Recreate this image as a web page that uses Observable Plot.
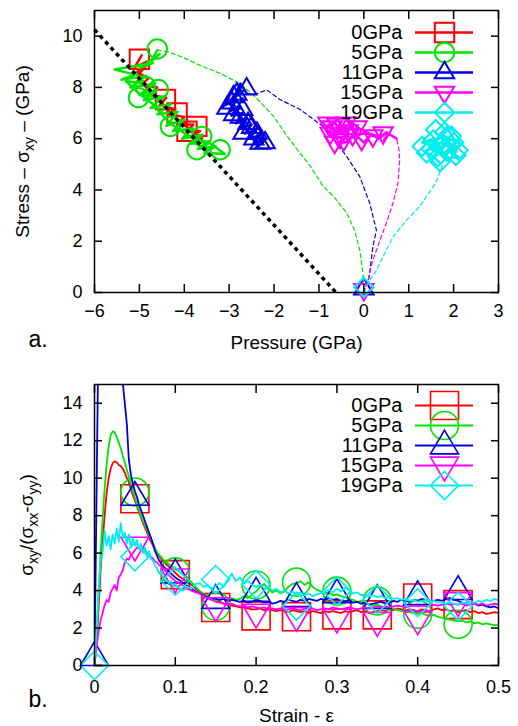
<!DOCTYPE html>
<html><head><meta charset="utf-8">
<script src="https://cdn.jsdelivr.net/npm/d3@7"></script>
<script src="https://cdn.jsdelivr.net/npm/@observablehq/plot@0.6"></script>
<style>
body{margin:0;background:#fff;}
#wrap{position:relative;width:518px;height:726px;background:#fff;}
#wrap svg{display:block;}
.leg{position:absolute;left:280px;}
</style></head><body><div id="wrap"></div>
<script>
// ---------- shared ----------
const series = ["0GPa","5GPa","11GPa","15GPa","19GPa"];
const colors = ["#ff0000","#00e600","#0000e0","#ff00ff","#00eeee"];
const symNames = ["square","circle","triUp","triDown","diamond"];

// ---------- panel a: pressure vs stress ----------
const xTicksA = [-6,-5,-4,-3,-2,-1,0,1,2,3];
const yTicksA = [0,2,4,6,8,10];
const bound = [[-6,10.25],[-0.62,0]];

const trans5 = [[0,0],[-0.02,0.75],[-0.09,1.65],[-0.2,2.4],[-0.38,3.1],[-0.65,3.7],[-0.91,4.15],[-1.2,4.95],[-1.45,5.5],[-1.75,6.2],[-2.0,6.85],[-2.4,7.6],[-2.76,8.15],[-3.2,8.55],[-3.64,8.85],[-4.0,9.15],[-4.38,9.4],[-4.6,9.45]];
const trans11 = [[0,0],[0.12,0.6],[0.2,1.78],[0.28,2.43],[0.13,3.49],[-0.09,4.52],[-0.38,5.3],[-0.65,5.95],[-0.91,6.48],[-1.42,7.14],[-1.87,7.53],[-2.16,7.9],[-2.4,7.75],[-2.6,7.75]];
const trans15 = [[0,0],[0.09,0.47],[0.2,1.25],[0.36,2.04],[0.5,2.7],[0.65,3.49],[0.76,4.27],[0.8,5.18],[0.78,5.6],[0.73,6.0]];
const trans19 = [[0,0],[0.13,0.47],[0.28,0.86],[0.5,1.65],[0.65,2.17],[0.95,2.82],[1.24,3.35],[1.6,4.27],[1.76,5.0],[1.7,5.05]];

const steady0 = [[-4.95,9.25],[-5.1,8.8],[-4.75,9.05],[-5.0,8.55],[-4.8,8.35],[-4.95,8.1],[-4.6,8.0],[-4.75,7.7],[-4.4,7.6],[-4.55,7.3],[-4.2,7.15],[-4.35,6.95],[-4.0,6.85],[-4.15,6.55],[-3.8,6.55],[-3.95,6.25],[-3.65,6.3],[-3.85,6.05],[-3.6,6.0],[-3.9,6.4],[-4.2,6.8],[-4.5,7.4],[-4.85,8.0],[-5.05,8.6],[-4.85,9.0]];
const steady5 = [[-4.6,9.45],[-4.75,9.0],[-4.55,9.3],[-5.0,8.75],[-4.7,8.95],[-5.55,8.7],[-5.1,8.5],[-5.4,8.3],[-4.85,8.45],[-5.2,8.0],[-4.65,8.15],[-5.0,7.7],[-4.6,7.9],[-4.9,7.5],[-4.45,7.65],[-4.75,7.2],[-4.3,7.35],[-4.6,6.95],[-4.15,7.05],[-4.4,6.5],[-4.0,6.75],[-4.25,6.3],[-3.8,6.4],[-4.05,6.0],[-3.6,6.15],[-3.85,5.8],[-3.45,5.9],[-3.7,5.6],[-3.3,5.7],[-3.55,5.45],[-3.1,5.4],[-3.4,5.8],[-3.9,6.1],[-4.35,6.65],[-4.7,7.35],[-5.0,7.75],[-5.3,8.25],[-4.9,8.15],[-5.1,8.6]];
const steady11 = [[-2.6,7.75],[-2.75,8.15],[-2.9,7.6],[-2.7,7.85],[-3.1,7.3],[-2.85,7.5],[-3.0,7.05],[-2.8,7.25],[-2.95,6.9],[-2.7,7.0],[-2.85,6.6],[-2.6,6.8],[-2.75,6.4],[-2.5,6.55],[-2.65,6.2],[-2.4,6.35],[-2.55,6.0],[-2.3,6.15],[-2.45,5.85],[-2.2,5.95],[-2.35,5.7],[-2.6,6.3],[-2.8,6.9],[-3.0,7.4],[-2.8,7.9]];
const steady15 = [[0.73,6.0],[0.5,6.25],[0.35,6.0],[0.15,6.15],[0.0,5.85],[-0.15,6.1],[-0.3,6.45],[-0.5,6.2],[-0.65,6.65],[-0.82,6.5],[-0.6,6.3],[-0.78,6.1],[-0.45,6.0],[-0.6,5.8],[-0.3,5.9],[-0.45,6.5],[-0.2,6.3],[-0.35,6.75],[-0.1,6.4],[-0.25,6.05],[0.05,6.25],[0.3,6.1],[0.55,6.2],[0.45,5.95]];
const steady19 = [[1.7,5.05],[1.55,5.3],[1.35,5.5],[1.6,5.7],[1.3,5.85],[1.55,6.0],[1.75,5.6],[1.9,5.9],[1.7,6.2],[1.85,6.45],[2.0,6.0],[2.15,5.75],[1.95,5.5],[2.1,5.3],[1.85,5.2],[1.65,5.45],[1.45,5.65],[1.7,5.85],[1.95,5.65],[1.8,5.35],[1.6,5.55],[1.5,5.9],[1.8,6.1],[2.05,5.85]];

const pts0 = [[-5.0,9.1],[-4.42,7.53],[-4.16,7.0],[-3.72,6.48],[-3.94,6.29]];
const pts5 = [[-4.6,9.5],[-4.58,7.92],[-5.02,7.6],[-4.87,8.05],[-4.31,6.48],[-3.61,6.09],[-3.72,5.57],[-3.2,5.57]];
const pts11 = [[0,0.15],[-2.61,7.95],[-2.83,7.75],[-2.94,7.4],[-2.58,6.6],[-2.69,6.22],[-2.38,6.22],[-2.31,5.83],[-3.05,7.2],[-2.9,6.95],[-2.75,6.85],[-2.5,6.45],[-2.45,6.0],[-2.2,5.85],[-2.9,7.65],[-2.7,7.15]];
const pts15 = [[0,0.1],[0.43,6.22],[-0.05,5.96],[-0.35,6.3],[-0.6,6.55],[-0.75,6.2],[-0.45,5.95],[-0.7,6.45],[-0.55,6.05],[-0.25,6.15],[-0.15,6.45],[-0.8,6.6],[-0.4,6.6],[-0.65,5.85],[0.2,6.1]];
const pts19 = [[0,0.2],[1.6,6.35],[1.5,5.6],[1.75,5.75],[2.0,5.85],[1.65,5.3],[1.85,5.5],[1.4,5.45],[1.95,6.1],[1.3,5.7],[1.55,5.95],[1.8,6.25],[2.1,5.55],[1.7,5.1],[2.05,5.35]];

// ---------- panel b: strain vs ratio ----------
const xTicksB = [0,0.1,0.2,0.3,0.4,0.5];
const yTicksB = [0,2,4,6,8,10,12,14];
const strain = [0,0.0025,0.005,0.0075,0.01,0.0125,0.015,0.0175,0.02,0.0225,
0.025,0.0275,0.03,0.0325,0.035,0.0375,0.04,0.0425,0.045,0.0475,
0.05,0.0525,0.055,0.0575,0.06,0.0625,0.065,0.0675,0.07,0.0725,
0.075,0.0775,0.08,0.0825,0.085,0.0875,0.09,0.0925,0.095,0.0975,
0.1,
0.105,0.11,0.115,0.12,0.125,0.13,0.135,0.14,0.145,0.15,
0.155,0.16,0.165,0.17,0.175,0.18,0.185,0.19,0.195,0.2,
0.205,0.21,0.215,0.22,0.225,0.23,0.235,0.24,0.245,0.25,
0.255,0.26,0.265,0.27,0.275,0.28,0.285,0.29,0.295,0.3,
0.305,0.31,0.315,0.32,0.325,0.33,0.335,0.34,0.345,0.35,
0.355,0.36,0.365,0.37,0.375,0.38,0.385,0.39,0.395,0.4,
0.405,0.41,0.415,0.42,0.425,0.43,0.435,0.44,0.445,0.45,
0.455,0.46,0.465,0.47,0.475,0.48,0.485,0.49,0.495,0.5];

const ratio0 = [0,1.2,3.0,5.0,6.6,8.0,9.2,10.0,10.5,10.8,
10.9,10.85,10.7,10.65,10.5,10.3,10.0,9.8,9.4,9.1,
8.8,8.5,8.2,7.9,7.6,7.35,7.1,6.85,6.6,6.4,
6.15,6.0,5.85,5.7,5.55,5.45,5.35,5.25,5.15,5.05,
4.95,
4.75,4.6,4.45,4.3,4.1,3.95,3.8,3.65,3.55,3.45,
3.4,3.3,3.25,3.2,3.15,3.1,3.1,3.05,3.0,3.0,
3.05,2.95,3.0,2.95,2.9,2.95,2.9,2.85,2.95,2.9,
2.85,2.9,2.8,2.9,2.85,2.8,2.9,2.85,2.9,2.85,
2.8,2.9,2.85,2.9,2.95,2.85,2.9,2.8,2.85,2.9,
2.95,2.9,3.0,2.95,3.05,3.0,2.95,3.0,2.95,2.9,
3.0,2.95,2.9,3.0,3.05,2.95,3.0,2.9,2.95,2.85,
2.9,2.95,2.85,2.9,2.8,2.85,2.75,2.8,2.85,2.8];
const ratio5 = [0,1.5,3.8,6.0,7.8,9.4,10.7,11.7,12.3,12.5,
12.45,12.2,11.9,11.6,11.2,10.85,10.45,10.1,9.7,9.3,
8.95,8.6,8.3,8.0,7.7,7.45,7.25,7.0,6.75,6.5,
6.25,6.05,5.9,5.8,5.65,5.55,5.5,5.4,5.3,5.25,
5.15,
5.0,4.85,4.65,4.45,4.2,4.0,3.8,3.6,3.5,3.45,
3.5,3.55,3.45,3.6,3.5,3.55,3.7,3.6,3.8,3.95,
4.2,4.35,4.1,3.9,4.0,3.85,3.95,4.2,4.35,4.4,
4.5,4.3,4.45,4.2,4.05,3.95,3.85,3.9,3.75,3.8,
3.7,3.65,3.55,3.5,3.4,3.45,3.3,3.25,3.2,3.25,
3.15,3.1,3.0,3.05,2.95,2.9,2.95,2.85,2.8,2.75,
2.8,2.7,2.65,2.7,2.6,2.55,2.5,2.45,2.4,2.35,
2.4,2.3,2.35,2.25,2.3,2.2,2.25,2.2,2.15,2.15];
const ratio11 = [0,9,18,21,22,22,21.5,21,20,19.2,
18.4,17.6,16.8,16.0,15.1,14.0,12.9,11.0,10.2,9.7,
9.3,9.0,8.6,8.3,8.0,7.7,7.4,7.1,6.8,6.5,
6.1,5.85,5.6,5.45,5.3,5.2,5.1,5.0,4.9,4.8,
4.7,
4.55,4.4,4.25,4.1,3.95,3.85,3.75,3.65,3.6,3.55,
3.5,3.55,3.45,3.5,3.45,3.4,3.45,3.35,3.4,3.5,
3.45,3.35,3.4,3.3,3.35,3.45,3.4,3.5,3.45,3.4,
3.5,3.45,3.55,3.5,3.45,3.55,3.5,3.6,3.5,3.55,
3.45,3.4,3.5,3.35,3.4,3.3,3.35,3.25,3.3,3.35,
3.4,3.3,3.35,3.45,3.4,3.5,3.45,3.4,3.5,3.45,
3.55,3.5,3.4,3.45,3.5,3.45,3.55,3.6,3.5,3.45,
3.35,3.3,3.4,3.3,3.2,3.25,3.15,3.1,3.15,3.05];
const ratio15 = [0,1.0,1.8,2.4,2.8,3.2,3.5,3.4,3.9,4.1,
4.3,4.0,4.7,4.85,5.1,5.5,5.7,5.65,5.9,6.0,
6.15,6.3,6.25,6.2,6.3,6.15,6.0,5.9,5.8,5.7,
5.55,5.5,5.35,5.3,5.2,5.05,4.95,4.8,4.7,4.6,
4.5,
4.4,4.25,4.1,4.0,3.9,3.85,3.7,3.6,3.5,3.4,
3.35,3.3,3.25,3.3,3.2,3.15,3.2,3.1,3.15,3.1,
3.05,3.1,3.0,3.05,3.0,3.05,2.95,3.0,3.05,3.0,
2.95,3.05,3.0,3.05,2.95,3.0,3.05,3.0,3.1,3.05,
3.0,3.05,3.1,3.05,3.0,3.05,3.1,3.05,3.1,3.15,
3.1,3.15,3.1,3.15,3.2,3.15,3.1,3.15,3.2,3.15,
3.2,3.15,3.2,3.25,3.2,3.25,3.3,3.25,3.3,3.25,
3.3,3.2,3.25,3.3,3.25,3.3,3.2,3.25,3.3,3.25];
const ratio19 = [0,2.0,4.0,5.5,6.0,7.2,6.4,6.9,6.2,7.0,
6.5,7.3,6.6,7.6,6.8,7.1,6.5,7.0,6.3,6.8,
6.4,6.7,6.2,6.5,6.0,6.3,5.8,6.1,5.7,5.6,
5.3,5.2,4.9,5.0,4.7,4.6,4.5,4.4,4.5,4.3,
4.35,
4.1,4.0,4.2,4.1,4.35,4.4,4.2,4.3,4.1,4.25,
4.4,4.2,4.6,4.9,4.5,4.7,4.4,4.5,4.3,4.2,
4.3,4.1,4.2,4.0,4.1,3.9,4.0,3.85,3.95,3.8,
3.9,3.75,3.85,3.7,3.8,3.85,3.95,4.05,3.9,4.1,
3.95,4.15,4.0,3.85,3.9,3.75,3.8,3.7,3.75,3.65,
3.7,3.6,3.65,3.55,3.6,3.5,3.55,3.45,3.5,3.4,
3.45,3.5,3.4,3.45,3.35,3.4,3.3,3.35,3.3,3.25,
3.35,3.3,3.4,3.35,3.45,3.4,3.5,3.45,3.55,3.5];

const markStrain = [0.05,0.1,0.15,0.2,0.25,0.3,0.35,0.4,0.45];
const markStrain0 = [0,0.05,0.1,0.15,0.2,0.25,0.3,0.35,0.4,0.45];
const mark0 = [8.9,4.85,3.1,2.65,2.6,2.7,2.7,3.6,3.25];
const mark5 = [9.26,5.0,3.17,4.3,4.45,3.97,3.44,2.73,2.2];
const mark11 = [0.45,9.0,4.86,3.5,3.88,3.6,3.8,3.5,3.7,3.97];
const mark15 = [6.4,4.7,3.17,2.82,2.65,2.56,2.38,2.47,3.44];
const mark19 = [0,5.8,4.5,4.59,4.32,3.17,3.97,3.53,3.35,3.17];

// ---------- helpers ----------
const FONT = '"Liberation Sans", Arial, Helvetica, sans-serif';
function sym(kind){
  return {draw(ctx, size){
    const r = Math.sqrt(size/Math.PI);
    if (kind==="square"){ctx.moveTo(-r,-r);ctx.lineTo(r,-r);ctx.lineTo(r,r);ctx.lineTo(-r,r);ctx.closePath();}
    else if (kind==="circle"){ctx.moveTo(r,0);ctx.arc(0,0,r,0,2*Math.PI);ctx.closePath();}
    else if (kind==="triUp"){ctx.moveTo(0,-1.1*r);ctx.lineTo(r,0.6*r);ctx.lineTo(-r,0.6*r);ctx.closePath();}
    else if (kind==="triDown"){ctx.moveTo(0,1.1*r);ctx.lineTo(r,-0.6*r);ctx.lineTo(-r,-0.6*r);ctx.closePath();}
    else {ctx.moveTo(0,-r);ctx.lineTo(r,0);ctx.lineTo(0,r);ctx.lineTo(-r,0);ctx.closePath();}
  }};
}
const XY = {x: d => d[0], y: d => d[1]};
const minusFmt = d => d < 0 ? "\u2212" + (-d) : String(d);
const decFmt = d => d === 0 ? "0" : d.toFixed(1);

function axesMarks(xt, yt, xfmt, xPad){
  return [
    Plot.frame({stroke:"black", strokeWidth:1.5}),
    Plot.axisX(xt, {anchor:"bottom", tickSize:-8, fill:"none", strokeWidth:1.5, label:null}),
    Plot.axisX(xt, {anchor:"top", tickSize:-8, fill:"none", strokeWidth:1.5, label:null}),
    Plot.axisY(yt, {anchor:"left", tickSize:-8, fill:"none", strokeWidth:1.5, label:null}),
    Plot.axisY(yt, {anchor:"right", tickSize:-8, fill:"none", strokeWidth:1.5, label:null}),
    Plot.axisX(xt, {anchor:"bottom", tickSize:0, tickPadding:xPad, tickFormat:xfmt, label:null, fontSize:18}),
    Plot.axisY(yt, {anchor:"left", tickSize:0, tickPadding:12, tickFormat:minusFmt, label:null, fontSize:18})
  ];
}

function subscriptify(svg, match, parts){
  d3.select(svg).selectAll("text").filter(function(){return this.textContent === match;}).each(function(){
    const t = d3.select(this);
    t.text(null);
    let shifted = false;
    parts.forEach(([s, sub]) => {
      const ts = t.append("tspan").text(s);
      if (sub && !shifted){ ts.attr("dy", 5).attr("font-size", 14); shifted = true; }
      else if (!sub && shifted){ ts.attr("dy", -5); shifted = false; }
      else if (sub) ts.attr("font-size", 14);
    });
  });
}

const wrap = document.getElementById("wrap");

// ---------- top plot ----------
const topSets = [
  {trans:null, steady:steady0, pts:pts0},
  {trans:trans5, steady:steady5, pts:pts5},
  {trans:trans11, steady:steady11, pts:pts11},
  {trans:trans15, steady:steady15, pts:pts15},
  {trans:trans19, steady:steady19, pts:pts19}
];
const topMarks = [];
topSets.forEach((s,i) => {
  if (s.trans) topMarks.push(Plot.line(s.trans, {...XY, stroke:colors[i], strokeWidth:1.2, strokeDasharray:"4,3"}));
  topMarks.push(Plot.line(s.steady, {...XY, stroke:colors[i], strokeWidth:2.5}));
  topMarks.push(Plot.dot(s.pts, {...XY, symbol:sym(symNames[i]), r:9.7, stroke:colors[i], fill:"none", strokeWidth:2}));
});
topMarks.push(Plot.line(bound, {...XY, stroke:"black", strokeWidth:3.5, strokeDasharray:"4,4", strokeLinecap:"butt"}));

const yLabelA = "Stress \u2013 \u03c3xy \u2013 (GPa)";
const plotA = Plot.plot({
  width:518, height:365, marginLeft:94, marginRight:20, marginTop:10, marginBottom:73,
  x:{domain:[-6,3], label:null}, y:{domain:[0,11], label:null},
  style:{fontFamily:FONT, fontSize:"18px", background:"transparent", color:"black"},
  marks:[
    ...topMarks,
    ...axesMarks(xTicksA, yTicksA, minusFmt, 12),
    Plot.text(["Pressure (GPa)"], {frameAnchor:"bottom", dy:50, fontSize:19, textAnchor:"middle", lineAnchor:"middle"}),
    Plot.text([yLabelA], {frameAnchor:"left", dx:-72, rotate:-90, fontSize:19, textAnchor:"middle", lineAnchor:"middle"}),
    Plot.text(["a."], {frameAnchor:"bottom-left", dx:-66, dy:47, fontSize:23, textAnchor:"start", lineAnchor:"middle"})
  ]
});
subscriptify(plotA, yLabelA, [["Stress \u2013 \u03c3",0],["xy",1],[" \u2013 (GPa)",0]]);
wrap.appendChild(plotA);

// ---------- bottom plot ----------
const ratios = [ratio0, ratio5, ratio11, ratio15, ratio19];
const markVals = [mark0, mark5, mark11, mark15, mark19];
const markX = [markStrain, markStrain, markStrain0, markStrain, markStrain0];
const botMarks = [];
ratios.forEach((vals,i) => {
  botMarks.push(Plot.line(strain, {x:d=>d, y:(d,j)=>vals[j], stroke:colors[i], strokeWidth:1.8, clip:true}));
  botMarks.push(Plot.dot(markX[i], {x:d=>d, y:(d,j)=>markVals[i][j], symbol:sym(symNames[i]), r:14, stroke:colors[i], fill:"none", strokeWidth:1.6}));
});
const yLabelB = "\u03c3xy/(\u03c3xx-\u03c3yy)";
const plotB = Plot.plot({
  width:518, height:361, marginLeft:94, marginRight:20, marginTop:19, marginBottom:61,
  x:{domain:[0,0.5], label:null}, y:{domain:[0,15], label:null},
  style:{fontFamily:FONT, fontSize:"18px", background:"transparent", color:"black"},
  marks:[
    ...botMarks,
    ...axesMarks(xTicksB, yTicksB, decFmt, 15),
    Plot.text(["Strain - \u03b5"], {frameAnchor:"bottom", dy:50, fontSize:19, textAnchor:"middle", lineAnchor:"middle"}),
    Plot.text([yLabelB], {frameAnchor:"left", dx:-68, rotate:-90, fontSize:19, textAnchor:"middle", lineAnchor:"middle"}),
    Plot.text(["b."], {frameAnchor:"bottom-left", dx:-66, dy:34, fontSize:23, textAnchor:"start", lineAnchor:"middle"})
  ]
});
subscriptify(plotB, yLabelB, [["\u03c3",0],["xy",1],["/(\u03c3",0],["xx",1],["-\u03c3",0],["yy",1],[")",0]]);
wrap.appendChild(plotB);

// ---------- legends ----------
function legend(top, height, yRange, r, lineW, markW){
  const marks = [];
  series.forEach((s,i) => {
    marks.push(Plot.ruleY([s], {y:d=>d, stroke:colors[i], strokeWidth:lineW}));
    marks.push(Plot.dot([s], {y:d=>d, frameAnchor:"middle", symbol:sym(symNames[i]), r, stroke:colors[i], fill:"none", strokeWidth:markW}));
  });
  marks.push(Plot.text(series, {y:d=>d, text:d=>d, frameAnchor:"left", dx:-13, textAnchor:"end", lineAnchor:"middle", fontSize:20, fill:"black"}));
  const p = Plot.plot({
    width:193, height, marginLeft:135, marginRight:0, marginTop:0, marginBottom:0,
    x:{domain:[0,1], axis:null}, y:{type:"point", domain:series, range:yRange, padding:0, axis:null},
    style:{fontFamily:FONT, fontSize:"20px", background:"transparent", color:"black"},
    marks
  });
  p.classList.add("leg");
  p.style.top = top + "px";
  p.style.position = "absolute";
  p.style.left = "280px";
  wrap.appendChild(p);
}
legend(0, 130, [31.7, 113], 9.7, 2.5, 2);
legend(365, 140, [38.3, 121.7], 14, 1.8, 1.6);
</script>
</body></html>
